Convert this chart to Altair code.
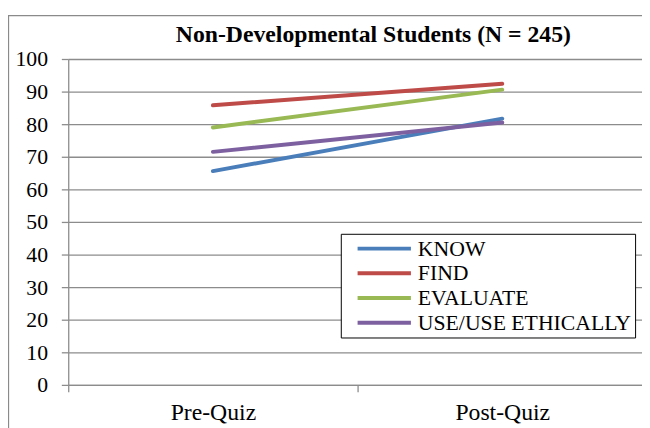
import altair as alt
import pandas as pd

categories = ["Pre-Quiz", "Post-Quiz"]
series = ["KNOW", "FIND", "EVALUATE", "USE/USE ETHICALLY"]
know = [65.6, 81.7]
find = [85.8, 92.4]
evaluate = [79.0, 90.6]
use_eth = [71.5, 80.5]
colors = ["#4A7EBB", "#BE4B48", "#98B954", "#7D60A0"]
title_text = "Non-Developmental Students (N = 245)"

rows = []
for name, vals in zip(series, [know, find, evaluate, use_eth]):
    for c, v in zip(categories, vals):
        rows.append({"Quiz": c, "Series": name, "Score": v})
df = pd.DataFrame(rows)

FONT = "Liberation Serif"
GRID = "#8C8C8C"

one = pd.DataFrame({"t": [title_text]})

border = alt.Chart(one).mark_rect(
    fill=None, stroke="#8A8A8A", strokeWidth=1.3, clip=False
).encode(
    x=alt.value(-60.5), x2=alt.value(700), y=alt.value(-44), y2=alt.value(600)
)

title = alt.Chart(one).mark_text(
    font=FONT, fontSize=24, fontWeight="bold", color="black",
    align="center", baseline="alphabetic"
).encode(x=alt.value(309), y=alt.value(-17), text="t:N")

lines = alt.Chart(df).mark_line(strokeWidth=4, strokeCap="round").encode(
    x=alt.X("Quiz:N", sort=categories,
            scale=alt.Scale(type="band", domain=categories, range=[0, 586],
                            paddingInner=0, paddingOuter=0),
            axis=alt.Axis(title=None, tickBand="extent", tickSize=7,
                          tickColor=GRID, domainColor=GRID, tickWidth=1.3,
                          domainWidth=1.3, labelFontSize=24, labelFont=FONT,
                          labelColor="black", labelBaseline="alphabetic",
                          labelPadding=28, labelAngle=0, grid=False)),
    y=alt.Y("Score:Q", scale=alt.Scale(domain=[0, 100], nice=False),
            axis=alt.Axis(title=None, values=list(range(0, 101, 10)),
                          tickSize=7, tickColor=GRID, domainColor=GRID,
                          tickWidth=1.3, domainWidth=1.3,
                          gridColor=GRID, gridWidth=1.3,
                          labelFontSize=22, labelColor="black", labelFont=FONT,
                          labelPadding=14)),
    color=alt.Color("Series:N", sort=series,
                    scale=alt.Scale(domain=series, range=colors),
                    legend=alt.Legend(title=None, orient="none", legendX=276,
                                      legendY=177, direction="vertical",
                                      strokeColor="black", padding=4,
                                      fillColor="white",
                                      symbolType="M-3,0H3", symbolSize=324,
                                      symbolStrokeWidth=4, symbolOffset=29,
                                      labelFontSize=22, labelFont=FONT,
                                      labelColor="black", labelOffset=23,
                                      rowPadding=3, labelLimit=400)),
    order=alt.Order("Series:N"),
)

chart = alt.layer(border, lines, title).properties(
    width=581,
    height=330,
    autosize=alt.AutoSizeParams(type="none"),
    padding={"left": 61, "top": 49, "right": 0, "bottom": 41},
).configure_view(stroke=None)

chart.save("out.html", embed_options={"renderer": "svg", "actions": False})
